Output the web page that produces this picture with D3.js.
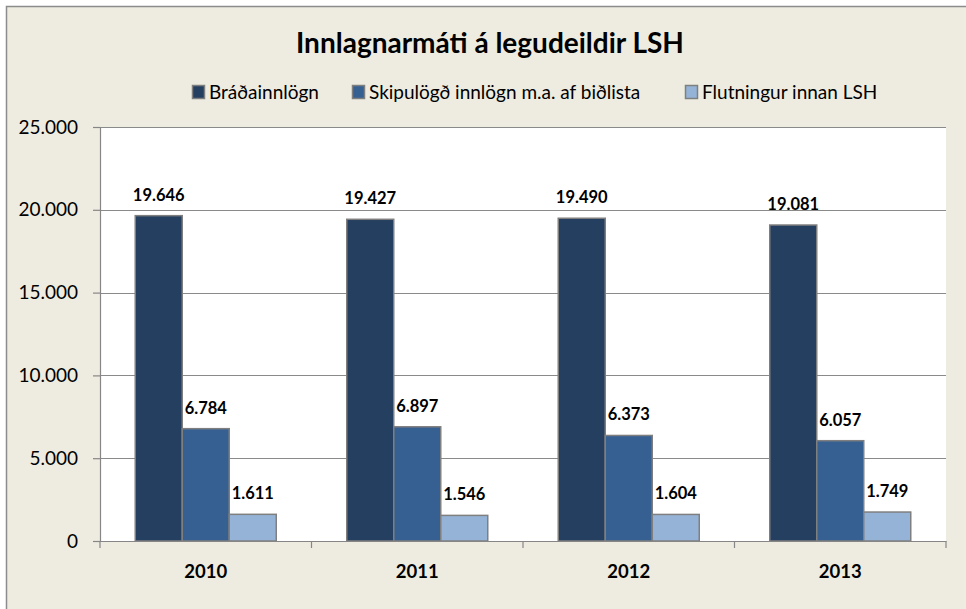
<!DOCTYPE html>
<html>
<head>
<meta charset="utf-8">
<script src="https://cdn.jsdelivr.net/npm/d3@7"></script>
<style>
  body { margin: 0; background: #fff; }
  text { font-family: Lato, "Open Sans", sans-serif; }
</style>
</head>
<body>
<script>
// chart data
var years = ["2010", "2011", "2012", "2013"];
var seriesNames = ["Bráðainnlögn", "Skipulögð innlögn m.a. af biðlista", "Flutningur innan LSH"];
var bradaValues = [19646, 19427, 19490, 19081];
var skipulagdValues = [6784, 6897, 6373, 6057];
var flutningurValues = [1611, 1546, 1604, 1749];
var yTicks = [0, 5000, 10000, 15000, 20000, 25000];
var colors = ["#253F60", "#366092", "#95B3D7"];

var w = 966, h = 609;
var margin = {left: 100, right: 20, top: 127, bottom: 68};
var fmt = function(v) { return d3.format(",")(v).replace(/,/g, "."); };

var series = [bradaValues, skipulagdValues, flutningurValues];
var rows = [];
years.forEach(function(y, i) {
  series.forEach(function(s, j) {
    rows.push({year: y, k: j, value: s[i]});
  });
});

var svg = d3.select("body")
  .append("svg")
  .attr("width", w)
  .attr("height", h);

// outer chart area
svg.append("rect")
  .attr("x", 6.5).attr("y", 6.5)
  .attr("width", w + 10).attr("height", h + 10)
  .attr("fill", "#EEECE1")
  .attr("stroke", "#8c8c8c")
  .attr("stroke-width", 1.5);

var x = d3.scaleBand()
  .domain(years)
  .range([margin.left, w - margin.right]);
var y = d3.scaleLinear()
  .domain([0, 25000])
  .range([h - margin.bottom, margin.top]);
var bw = x.bandwidth() / 4.5; // gap width 150%
var xIn = d3.scaleBand()
  .domain([0, 1, 2])
  .range([0, bw * 3]);

// plot area
svg.append("rect")
  .attr("x", margin.left).attr("y", margin.top)
  .attr("width", w - margin.left - margin.right)
  .attr("height", h - margin.top - margin.bottom)
  .attr("fill", "#ffffff");

// gridlines
svg.selectAll("line.grid")
  .data(yTicks.slice(1))
  .enter()
  .append("line")
  .attr("class", "grid")
  .attr("x1", margin.left).attr("x2", w - margin.right)
  .attr("y1", function(d) { return Math.round(y(d)) + 0.5; })
  .attr("y2", function(d) { return Math.round(y(d)) + 0.5; })
  .attr("stroke", "#8a8a8a")
  .attr("stroke-width", 1);

// bars
svg.selectAll("rect.bar")
  .data(rows)
  .enter()
  .append("rect")
  .attr("class", "bar")
  .attr("x", function(d) { return x(d.year) + bw * 0.75 + xIn(d.k); })
  .attr("y", function(d) { return y(d.value); })
  .attr("width", xIn.bandwidth())
  .attr("height", function(d) { return y(0) - y(d.value); })
  .attr("fill", function(d) { return colors[d.k]; })
  .attr("stroke", "#7f7f7f")
  .attr("stroke-width", 1.5);

// value labels
svg.selectAll("text.val")
  .data(rows)
  .enter()
  .append("text")
  .attr("class", "val")
  .text(function(d) { return fmt(d.value); })
  .attr("x", function(d) { return x(d.year) + bw * 0.75 + xIn(d.k) + xIn.bandwidth() / 2; })
  .attr("y", function(d) { return y(d.value) - 15; })
  .attr("text-anchor", "middle")
  .attr("font-size", "16.5px")
  .attr("font-weight", "bold")
  .attr("fill", "#000");

// y axis
var yAxis = svg.append("g")
  .attr("transform", "translate(" + margin.left + ",0)")
  .call(d3.axisLeft(y).tickValues(yTicks).tickFormat(fmt).tickSize(7).tickPadding(15));
yAxis.selectAll("text").attr("font-size", "19px").attr("fill", "#000").style("font-family", "Lato, sans-serif");
yAxis.selectAll("line, path").attr("stroke", "#868686").attr("stroke-width", 1.2);

// x axis
var xAxis = svg.append("g")
  .attr("transform", "translate(0," + y(0) + ")")
  .call(d3.axisBottom(x).tickSize(0).tickPadding(0));
xAxis.selectAll("text")
  .attr("dy", null).attr("y", 37)
  .attr("font-size", "18.5px").attr("font-weight", "bold").attr("fill", "#000")
  .style("font-family", "Lato, sans-serif");
xAxis.select("path").attr("stroke", "#868686").attr("stroke-width", 1.2);
xAxis.selectAll("line.cat")
  .data(years.concat(["end"]))
  .enter()
  .append("line")
  .attr("class", "cat")
  .attr("x1", function(d, i) { return margin.left + i * x.step(); })
  .attr("x2", function(d, i) { return margin.left + i * x.step(); })
  .attr("y1", 0).attr("y2", 7)
  .attr("stroke", "#868686")
  .attr("stroke-width", 1.2);

// title
svg.append("text")
  .text("Innlagnarmáti á legudeildir LSH")
  .attr("x", 490).attr("y", 53)
  .attr("text-anchor", "middle")
  .attr("font-size", "28px")
  .attr("font-weight", "bold")
  .attr("fill", "#000");

// legend
var legendX = [192, 352, 685];
var legend = svg.selectAll("g.legend")
  .data(seriesNames)
  .enter()
  .append("g")
  .attr("class", "legend")
  .attr("transform", function(d, i) { return "translate(" + legendX[i] + ",85)"; });
legend.append("rect")
  .attr("x", 0.5).attr("y", 0.5)
  .attr("width", 12).attr("height", 13)
  .attr("fill", function(d, i) { return colors[i]; })
  .attr("stroke", "#7f7f7f")
  .attr("stroke-width", 1.5);
legend.append("text")
  .text(function(d) { return d; })
  .attr("x", 17).attr("y", 14)
  .attr("font-size", "19px")
  .attr("fill", "#000");
</script>
</body>
</html>
